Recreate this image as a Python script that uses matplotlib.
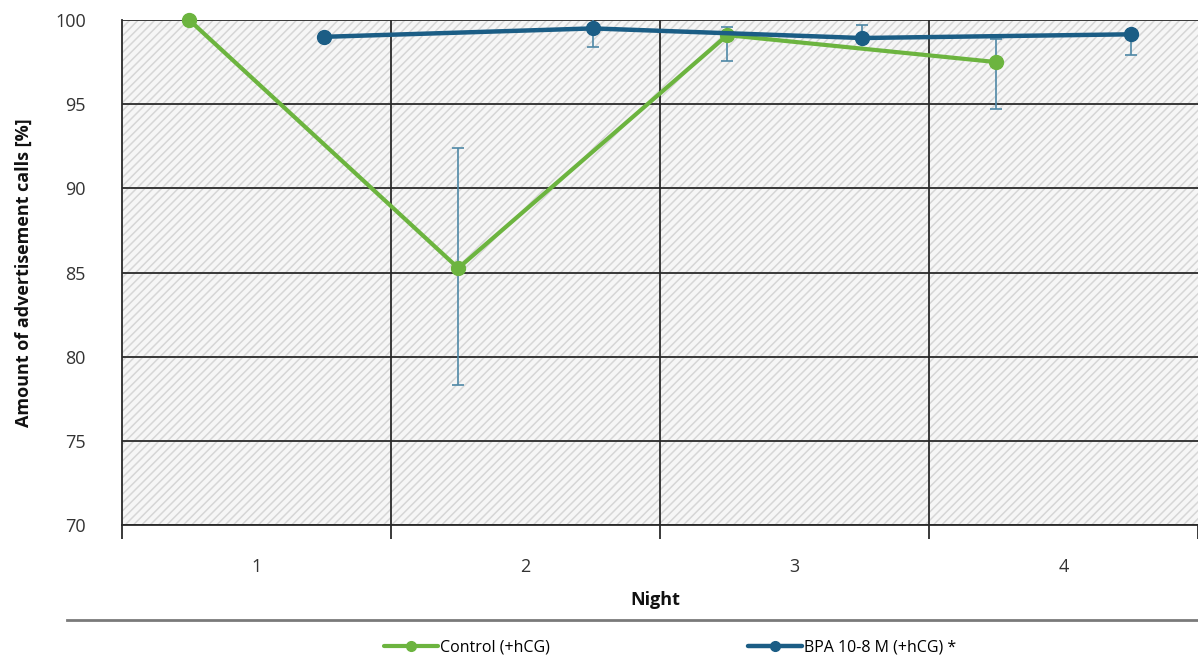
import numpy as np
import matplotlib
matplotlib.use("Agg")
import matplotlib.pyplot as plt
from matplotlib.patches import Rectangle
from matplotlib.lines import Line2D

plt.rcParams['font.family'] = ['Open Sans', 'DejaVu Sans']
plt.rcParams['hatch.linewidth'] = 1.1

nights = ['1', '2', '3', '4']
series = ['Control (+hCG)', 'BPA 10-8 M (+hCG) *']

control = [100.0, 85.26, 99.1, 97.5]
control_err_lo = [0.0, 6.96, 1.55, 2.8]
control_err_hi = [0.0, 7.13, 0.5, 1.37]

bpa = [99.0, 99.5, 98.93, 99.15]
bpa_err_lo = [0.0, 1.1, 0.0, 1.2]
bpa_err_hi = [0.0, 1.1, 0.77, 0.0]

green = '#6cb43f'
blue = '#1b5d85'
errc = '#4f88a6'

fig = plt.figure(figsize=(11.98, 6.62), dpi=100)
ax = fig.add_axes([122 / 1198, 1 - 525 / 662, 1 - 122 / 1198, (525 - 20) / 662])

# hatched plot background
ax.add_patch(Rectangle((0, 0), 1, 1, transform=ax.transAxes, facecolor='#f6f6f6',
                       edgecolor='#d6d6d6', hatch='////', linewidth=0, zorder=0))

x = np.arange(len(nights))
ax.errorbar(x - 0.25, control, yerr=[control_err_lo, control_err_hi], fmt='none',
            ecolor=errc, elinewidth=1.2, capsize=4.5, capthick=1.2, zorder=3)
ax.errorbar(x + 0.25, bpa, yerr=[bpa_err_lo, bpa_err_hi], fmt='none',
            ecolor=errc, elinewidth=1.2, capsize=4.5, capthick=1.2, zorder=3)
ax.plot(x - 0.25, control, color=green, lw=3, marker='o', ms=10,
        label=series[0], zorder=4, solid_capstyle='round', clip_on=False)
ax.plot(x + 0.25, bpa, color=blue, lw=3.2, marker='o', ms=10,
        label=series[1], zorder=5, solid_capstyle='round', clip_on=False)

ax.set_xlim(-0.5, len(nights) - 0.5)
ax.set_ylim(70, 100)
ax.set_yticks(np.arange(70, 101, 5))
ax.yaxis.grid(True, color='#2a2a2a', lw=1.3, zorder=1)
ax.set_axisbelow(True)
for b in np.arange(0.5, len(nights) - 1, 1):
    ax.axvline(b, color='#2a2a2a', lw=1.3, zorder=1)

ax.set_xticks(np.arange(-0.5, len(nights), 1))
ax.set_xticklabels([])
ax.tick_params(axis='x', which='major', direction='out', length=10, width=1.3, color='#2a2a2a')
ax.set_xticks(x, minor=True)
ax.set_xticklabels(nights, minor=True)
ax.tick_params(axis='x', which='minor', length=0, pad=24, labelsize=13, labelcolor='#333333')
ax.tick_params(axis='y', length=0, pad=26, labelsize=13, labelcolor='#333333')

for s in ['top', 'right']:
    ax.spines[s].set_visible(False)
for s in ['left', 'bottom']:
    ax.spines[s].set_color('#2a2a2a')
    ax.spines[s].set_linewidth(1.3)

ax.set_ylabel('Amount of advertisement calls [%]', fontsize=13, fontweight='bold',
              color='#111111', labelpad=16)
fig.text(655 / 1198, 1 - 600 / 662, 'Night', ha='center', va='center',
         fontsize=13, fontweight='bold', color='#111111')

fig.add_artist(Line2D([67 / 1198, 1.0], [1 - 620 / 662] * 2, transform=fig.transFigure,
                      color='#7a7a7a', lw=2))

fig.legend(loc='center', bbox_to_anchor=(670 / 1198, 1 - 648 / 662), ncol=2,
           frameon=False, fontsize=11.5, handlelength=3.4, handletextpad=0.1,
           columnspacing=12.4, markerscale=0.7)

fig.savefig('out.png', dpi=100)
